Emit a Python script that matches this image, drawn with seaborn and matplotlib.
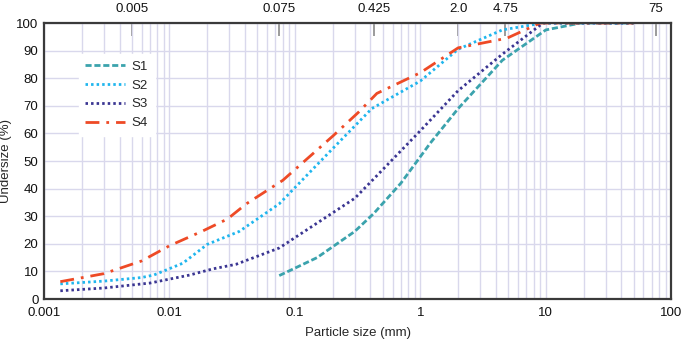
import numpy as np
import pandas as pd
import matplotlib
matplotlib.use("Agg")
import matplotlib.pyplot as plt
import seaborn as sns
from matplotlib.ticker import LogLocator, NullFormatter, FixedLocator

# ---- data ----
s1_size = [0.075, 0.15, 0.3, 0.425, 0.7, 1.2, 2.0, 4.5, 10, 19, 50]
s1_pass = [8.5, 15, 24.5, 31, 42, 56.5, 69, 86.5, 97.5, 100, 100]

s2_size = [0.00135, 0.003, 0.006, 0.0075, 0.0128, 0.02, 0.036, 0.075, 0.2, 0.41, 1.0, 2.0, 4.5, 9.5, 50]
s2_pass = [5.5, 6.5, 7.8, 8.7, 13, 19.8, 24.5, 34.5, 54.5, 69, 79, 90.5, 97.5, 100, 100]

s3_size = [0.00135, 0.003, 0.007, 0.0145, 0.022, 0.034, 0.075, 0.3, 0.45, 1.0, 2.0, 4.5, 9.5, 50]
s3_pass = [3, 4, 5.8, 8.7, 10.9, 12.6, 18.5, 36.5, 44.7, 61, 75.5, 88.7, 100, 100]

s4_size = [0.00135, 0.003, 0.006, 0.01, 0.0185, 0.029, 0.041, 0.08, 0.2, 0.32, 0.45, 1.0, 2.0, 4.9, 9.0, 50]
s4_pass = [6.3, 9.2, 13.8, 19.3, 24.7, 29, 34.5, 43, 59, 67.6, 74.5, 82, 91, 94.5, 100, 100]

series_names = ["S1", "S2", "S3", "S4"]
top_ticks = [0.005, 0.075, 0.425, 2.0, 4.75, 75]
top_labels = ["0.005", "0.075", "0.425", "2.0", "4.75", "75"]
x_ticks = [0.001, 0.01, 0.1, 1, 10, 100]
x_labels = ["0.001", "0.01", "0.1", "1", "10", "100"]
y_ticks = list(range(0, 101, 10))

frames = []
for name, xs, ys in zip(series_names, [s1_size, s2_size, s3_size, s4_size],
                        [s1_pass, s2_pass, s3_pass, s4_pass]):
    frames.append(pd.DataFrame({"size": xs, "pass": ys, "series": name}))
df = pd.concat(frames, ignore_index=True)

sns.set_style("white")
plt.rcParams["font.family"] = ["Liberation Sans", "DejaVu Sans"]

fig = plt.figure(figsize=(6.85, 3.41), dpi=100)
ax = fig.add_axes([0.0642, 0.123, 0.9158, 0.8095])

colors = {"S1": "#3ba3ad", "S2": "#20b6ee", "S3": "#3a3592", "S4": "#ee4a26"}
styles = {"S1": (0, (2.2, 1.0)), "S2": (0, (0.9, 1.1)), "S3": (0, (0.9, 1.1)),
          "S4": (0, (5, 2.5, 1, 2.5))}

for name in series_names:
    sub = df[df["series"] == name]
    sns.lineplot(data=sub, x="size", y="pass", ax=ax, color=colors[name],
                 linestyle=styles[name], linewidth=2.0, label=name,
                 estimator=None, sort=False)

ax.set_xscale("log")
ax.set_xlim(0.001, 100)
ax.set_ylim(0, 100)
ax.set_xticks(x_ticks)
ax.set_xticklabels(x_labels)
ax.xaxis.set_minor_locator(LogLocator(base=10, subs=np.arange(2, 10), numticks=20))
ax.xaxis.set_minor_formatter(NullFormatter())
ax.set_yticks(y_ticks)

gcol = "#d9d8ec"
ax.grid(True, which="major", axis="both", color=gcol, linewidth=1.0)
ax.grid(True, which="minor", axis="x", color=gcol, linewidth=1.0)
ax.set_axisbelow(True)

for sp in ax.spines.values():
    sp.set_visible(True)
    sp.set_color("#3a3a3a")
    sp.set_linewidth(1.6)

ax.tick_params(axis="y", which="both", length=0, labelsize=9.5, colors="#111111", pad=4)
ax.tick_params(axis="x", which="both", length=0, labelsize=9.5, colors="#111111", pad=5.5)
ax.set_xlabel("Particle size (mm)", fontsize=9.5, labelpad=6)
ax.set_ylabel("Undersize (%)", fontsize=9.5, labelpad=3)

sec = ax.secondary_xaxis("top")
sec.set_xticks(top_ticks)
sec.set_xticklabels(top_labels)
sec.xaxis.set_minor_locator(FixedLocator([]))
sec.tick_params(axis="x", direction="in", length=9, width=1.2, color="#8a8a8a",
                labelsize=9.5, pad=6, labelcolor="#111111")
sec.spines["top"].set_visible(False)

leg = ax.legend(loc="upper left", bbox_to_anchor=(0.045, 0.912), frameon=True,
                fontsize=9.5, handlelength=3.0, handletextpad=0.5,
                labelspacing=0.5, borderpad=0.5, fancybox=False)
leg.get_frame().set_facecolor("white")
leg.get_frame().set_edgecolor("white")
leg.get_frame().set_alpha(1.0)

fig.savefig("out.png", dpi=100)
